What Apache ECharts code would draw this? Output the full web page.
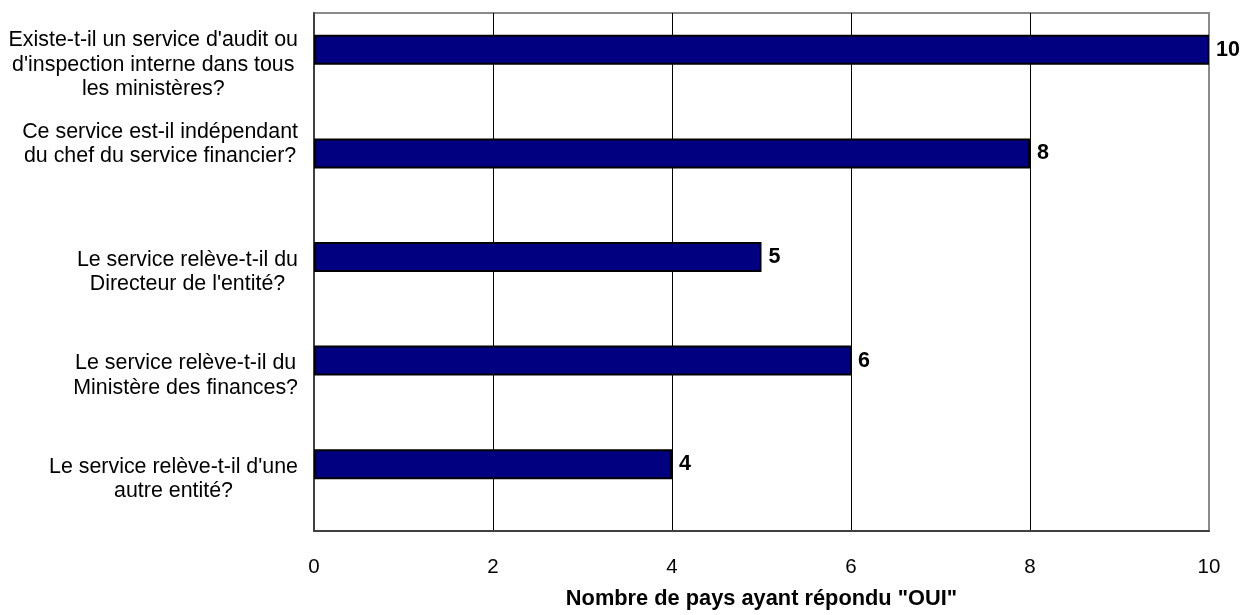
<!DOCTYPE html>
<html>
<head>
<meta charset="utf-8">
<script src="https://cdn.jsdelivr.net/npm/echarts@6/dist/echarts.min.js"></script>
<style>
  html, body { margin: 0; padding: 0; background: #fff; }
  #chart { width: 1253px; height: 615px; }
</style>
</head>
<body>
<div id="chart"></div>
<script>
const categories = [
  "Existe-t-il un service d'audit ou\nd'inspection interne dans tous\nles ministères?",
  "Ce service est-il indépendant\ndu chef du service financier?",
  "Le service relève-t-il du\nDirecteur de l'entité?",
  "Le service relève-t-il du\nMinistère des finances?",
  "Le service relève-t-il d'une\nautre entité?"
];
const ouiValues = [10, 8, 5, 6, 4];
const xTicks = { min: 0, max: 10, interval: 2 };
const xAxisTitle = 'Nombre de pays ayant répondu "OUI"';

const FONT = 'Liberation Sans, Arial, sans-serif';
const chart = echarts.init(document.getElementById('chart'), null, { renderer: 'canvas' });

chart.setOption({
  animation: false,
  backgroundColor: '#ffffff',
  grid: {
    left: 314, right: 44, top: 13, bottom: 79,
    show: true, borderColor: '#8a8a8a', borderWidth: 2, containLabel: false
  },
  xAxis: {
    type: 'value',
    min: xTicks.min, max: xTicks.max, interval: xTicks.interval,
    axisLine: { show: true, lineStyle: { color: '#404040', width: 2 } },
    axisTick: { show: false },
    axisLabel: { color: '#000', fontFamily: FONT, fontSize: 20.5, margin: 26 },
    splitLine: { show: true, lineStyle: { color: ['#404040', '#000', '#000', '#000', '#000', '#8a8a8a'], width: 1 } },
    name: xAxisTitle,
    nameLocation: 'middle',
    nameGap: 57,
    nameTextStyle: { color: '#000', fontFamily: FONT, fontSize: 21.8, fontWeight: 'bold' }
  },
  yAxis: {
    type: 'category',
    data: categories,
    inverse: true,
    axisLine: { show: true, lineStyle: { color: '#404040', width: 2 } },
    axisTick: { show: false },
    splitLine: { show: false },
    axisLabel: {
      margin: 16,
      formatter: function (v, i) {
        let s = v;
        if (i === 1) s = v + '\n \n ';
        return '{c|' + s + '}';
      },
      rich: {
        c: { align: 'center', color: '#000', fontFamily: FONT, fontSize: 21.4, lineHeight: 24.5 }
      }
    }
  },
  series: [
    {
      name: 'OUI',
      type: 'bar',
      data: ouiValues,
      barWidth: 30,
      barGap: '0%',
      itemStyle: { color: '#000080', borderColor: '#000', borderWidth: 2 },
      label: {
        show: true, position: 'right', distance: 7,
        color: '#000', fontFamily: FONT, fontSize: 21.5, fontWeight: 'bold'
      }
    },
    {
      name: 'NON',
      type: 'bar',
      data: ouiValues.map(() => null),
      barWidth: 30,
      barGap: '0%'
    }
  ]
});
</script>
</body>
</html>
